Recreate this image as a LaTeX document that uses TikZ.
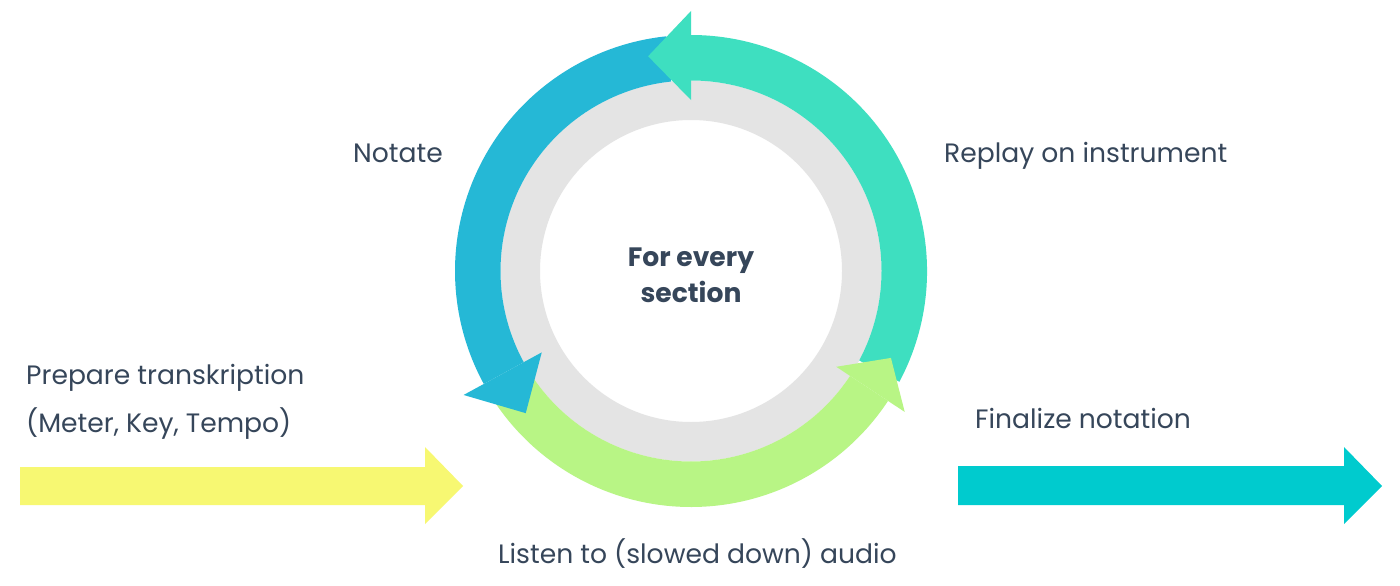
\documentclass[tikz,border=0pt]{standalone}
\usepackage{fontspec}
\setmainfont{Poppins}
\definecolor{cblue}{HTML}{25B8D6}
\definecolor{cteal}{HTML}{3EDFC0}
\definecolor{cgreen}{HTML}{B8F585}
\definecolor{cgray}{HTML}{E4E4E4}
\definecolor{cyellow}{HTML}{F7F872}
\definecolor{ccyan}{HTML}{00CBCE}
\definecolor{ctext}{HTML}{36465A}
\begin{document}
\begin{tikzpicture}[x=1pt,y=1pt,
  lbl/.style={anchor=base west,inner sep=0pt,text=ctext,font=\fontsize{26.6}{30}\selectfont},
  ctr/.style={anchor=base,inner sep=0pt,text=ctext,font=\fontsize{26.6}{30}\selectfont\bfseries}]
\fill[white] (0,0) rectangle (1400,-586);
\useasboundingbox (0,0) rectangle (1400,-586);
% ring
\coordinate (c) at (691,-271);
\begin{scope}[shift={(c)}]
  \fill[cgray,even odd rule] (0,0) circle[radius=190.5pt] (0,0) circle[radius=151pt];
  % shafts
  \fill[cteal] (-28:236pt) arc[start angle=-28,end angle=90,radius=236pt] -- (90:190.5pt) arc[start angle=90,end angle=-28,radius=190.5pt] -- cycle;
  \fill[cblue] (96:236pt) arc[start angle=96,end angle=208.6,radius=236pt] -- (208.6:190.5pt) arc[start angle=208.6,end angle=96,radius=190.5pt] -- cycle;
  \fill[cgreen] (214:236pt) arc[start angle=214,end angle=326.6,radius=236pt] -- (326.6:190.5pt) arc[start angle=326.6,end angle=214,radius=190.5pt] -- cycle;
  % heads
  \fill[cteal] (90:171pt) -- (90:260pt) -- (101.3:219pt) -- cycle;
  \fill[cblue] (208.6:170pt) -- (208.6:259pt) -- (220.7:218pt) -- cycle;
  \fill[cgreen] (326.6:174pt) -- (326.6:256pt) -- (336.5:218pt) -- cycle;
\end{scope}
% straight arrows
\coordinate (ya) at (20,-467);
\coordinate (yt) at (463,-486);
\fill[cyellow] (ya) -- (425,-467) -- (425,-447) -- (yt) -- (425,-524) -- (425,-505) -- (20,-505) -- cycle;
\coordinate (ca) at (958,-466);
\coordinate (ct) at (1382,-486);
\fill[ccyan] (ca) -- (1344,-466) -- (1344,-447) -- (ct) -- (1344,-524) -- (1344,-505) -- (958,-505) -- cycle;
% labels
\node[lbl] (notate) at (353,-162) {Notate};
\node[lbl] (replay) at (944,-162) {Replay on instrument};
\node[lbl] (prep1) at (26,-384) {Prepare transkription};
\node[lbl] (prep2) at (26,-432) {(Meter, Key, Tempo)};
\node[lbl] (final) at (975,-428) {Finalize notation};
\node[lbl] (listen) at (498,-563) {Listen to (slowed down) audio};
\node[ctr] (cen1) at (691,-266) {For every};
\node[ctr] (cen2) at (691,-302) {section};
\end{tikzpicture}
\end{document}
